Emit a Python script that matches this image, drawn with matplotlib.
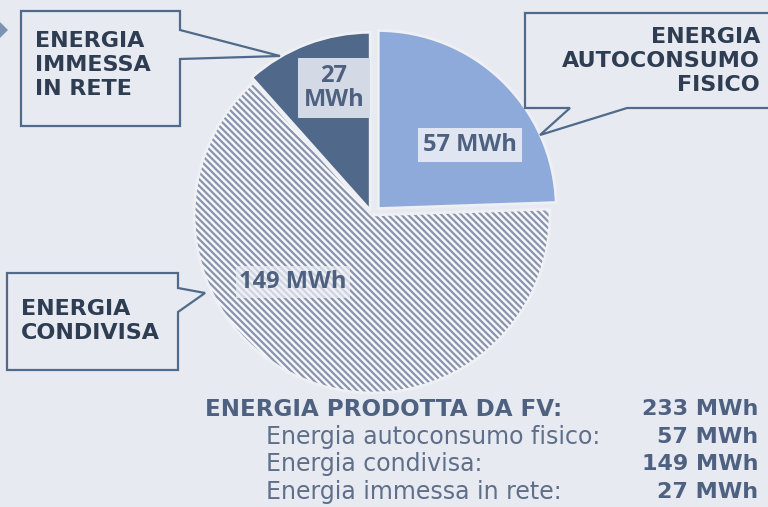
import matplotlib
matplotlib.use("Agg")
import matplotlib.pyplot as plt
from matplotlib.patches import Polygon

# slice data (clockwise from 12 o'clock)
values = [57, 149, 27]
value_labels = ["57 MWh", "149 MWh", "27\nMWh"]
callout_texts = ["ENERGIA\nAUTOCONSUMO\nFISICO", "ENERGIA\nCONDIVISA", "ENERGIA\nIMMESSA\nIN RETE"]

# summary table under the pie
summary_title = "ENERGIA PRODOTTA DA FV:"
summary_total = "233 MWh"
summary_rows = ["Energia autoconsumo fisico:", "Energia condivisa:", "Energia immessa in rete:"]
summary_values = ["57 MWh", "149 MWh", "27 MWh"]

bg = "#e7eaf1"
c_light = "#8eaadb"
c_dark = "#50698b"
c_hatch = "#8a94ad"
c_border = "#506a8a"
c_callout = "#2f3d52"
c_sum = "#4e6180"

plt.rcParams["hatch.linewidth"] = 1.6

W, H = 768, 507
fig = plt.figure(figsize=(W / 100, H / 100), dpi=100, facecolor=bg)
ax = fig.add_axes([0, 0, 1, 1])
ax.set_facecolor(bg)

def Y(y):
    # picture rows run top-down
    return H - y

cx, cy, r = 372, Y(215), 178
expl = [9, 0, 5]  # offsets in pixels
wedges, _ = ax.pie(values, startangle=90, counterclock=False,
                   colors=[c_light, "#f7f8fb", c_dark],
                   explode=expl, radius=r, center=(cx, cy),
                   wedgeprops=dict(linewidth=0), frame=True)
wedges[1].set_hatch("\\" * 5)
wedges[1].set_edgecolor(c_hatch)
wedges[1].set_linewidth(0)
# thin light seams between slices
ax.pie(values, startangle=90, counterclock=False, explode=expl,
       radius=r, center=(cx, cy), frame=True,
       wedgeprops=dict(fill=False, edgecolor="#eef0f4", linewidth=2))

# value labels on the slices
lab_font = ["Open Sans", "DejaVu Sans"]
ax.text(470, Y(145), value_labels[0], ha="center", va="center", fontsize=17,
        fontweight="bold", color=c_sum, family=lab_font,
        bbox=dict(boxstyle="square,pad=0.2", fc="#dfe5f1", ec="none"))
ax.text(293, Y(282), value_labels[1], ha="center", va="center", fontsize=17,
        fontweight="bold", color=c_sum, family=lab_font,
        bbox=dict(boxstyle="square,pad=0.15", fc="#eceff5", ec="none", alpha=0.7))
ax.text(334, Y(88), value_labels[2], ha="center", va="center", fontsize=17,
        fontweight="bold", color=c_sum, family=lab_font, linespacing=1.0,
        bbox=dict(boxstyle="square,pad=0.25", fc="#d3dae5", ec="none"))

# callout boxes with pointers
callouts = [
    [(525, 13), (775, 13), (775, 108), (627, 108), (540, 135), (570, 108), (525, 108)],
    [(7, 273), (178, 273), (178, 288), (205, 293), (178, 312), (178, 370), (7, 370)],
    [(21, 11), (180, 11), (180, 30), (280, 56), (180, 59), (180, 126), (21, 126)],
]
for pts in callouts:
    ax.add_patch(Polygon([(x, Y(y)) for x, y in pts], closed=True, fc=bg,
                         ec=c_border, lw=1.6, zorder=3))
ax.text(760, Y(61), callout_texts[0], ha="right", va="center", fontsize=16,
        fontweight="bold", color=c_callout, linespacing=1.25, zorder=4)
ax.text(21, Y(321), callout_texts[1], ha="left", va="center", fontsize=16,
        fontweight="bold", color=c_callout, linespacing=1.25, zorder=4)
ax.text(35, Y(65), callout_texts[2], ha="left", va="center", fontsize=16,
        fontweight="bold", color=c_callout, linespacing=1.25, zorder=4)

# little chevron at the top-left edge
ax.add_patch(Polygon([(0, Y(22)), (8, Y(30)), (0, Y(38))], closed=True,
                     fc="#7d93b3", ec="none"))

# summary
ax.text(205, Y(409), summary_title, ha="left", va="center", fontsize=16.6,
        fontweight="bold", color=c_sum)
ax.text(758, Y(409), summary_total, ha="right", va="center", fontsize=16,
        fontweight="bold", color=c_sum)
for i, (lab, val) in enumerate(zip(summary_rows, summary_values)):
    y = Y(437 + 27.5 * i)
    ax.text(266, y, lab, ha="left", va="center", fontsize=17,
            color="#5f6f8a")
    ax.text(758, y, val, ha="right", va="center", fontsize=16,
            fontweight="bold", color=c_sum)

ax.set_xlim(0, W)
ax.set_ylim(0, H)
ax.set_aspect("equal")
ax.axis("off")

fig.savefig("out.png", dpi=100, facecolor=bg)
